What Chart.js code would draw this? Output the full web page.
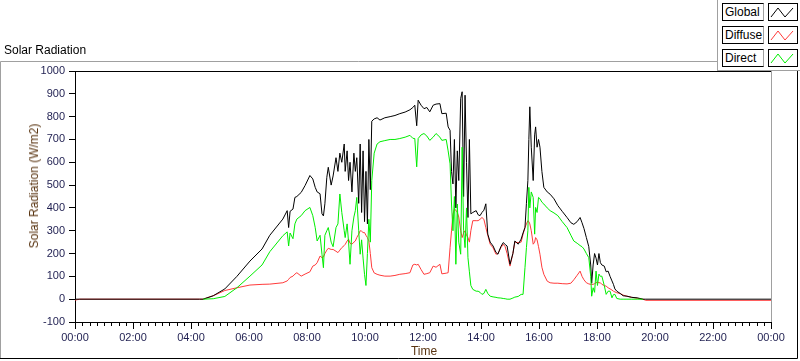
<!DOCTYPE html>
<html>
<head>
<meta charset="utf-8">
<script src="https://cdn.jsdelivr.net/npm/chart.js@4"></script>
<style>
  html, body { margin:0; padding:0; background:#fff; }
  #wrap { position:relative; width:800px; height:361px; overflow:hidden; font-family:"Liberation Sans", Arial, sans-serif; }
  #c { position:absolute; left:0; top:0; }
  .abs { position:absolute; white-space:nowrap; }
  #ptitle { left:4px; top:43px; font-size:12px; line-height:14px; color:#000; }
  #ytitle { left:34px; top:186px; font-size:12px; line-height:14px; color:#5a3512; transform:translate(-50%,-50%) rotate(-90deg); }
  #xtitle { left:424px; top:344px; font-size:12px; line-height:14px; color:#5a3512; transform:translateX(-50%); }
  #legend { left:717px; top:0px; width:83px; height:71px; background:#fff; border-left:1px solid #a0a0a0; border-bottom:1px solid #a0a0a0; box-sizing:border-box; }
  .ltext { position:absolute; left:4px; width:42px; height:18px; box-sizing:border-box; border:1px solid #000; border-right-color:#a0a0a0; font-size:12px; line-height:16px; padding-left:2px; color:#000; background:#fff; }
  .lsw { position:absolute; left:50px; width:30px; height:18px; box-sizing:border-box; border:1px solid #000; background:#fff; }
  .lsw svg { position:absolute; left:0; top:0; }
</style>
</head>
<body>
<div id="wrap">
  <canvas id="c" width="800" height="361"></canvas>
  <div id="ptitle" class="abs">Solar Radiation</div>
  <div id="ytitle" class="abs">Solar Radiation (W/m2)</div>
  <div id="xtitle" class="abs">Time</div>
  <div id="legend" class="abs"></div>
</div>
<script>
// ---- data (time in minutes since 00:00) ----
const seriesNames = ['Global', 'Diffuse', 'Direct'];
const times = [0,10,258,265,286,310,335,362,387,403,430,439,442,445,451,455,459,468,476,486,492,497,501,507,511,514,517,521,524,530,534,540,544,548,552,557,559,563,566,569,573,577,580,583,587,590,593,596,599,602,605,608,611,614,619,625,631,641,652,662,672,683,693,699,703,707,710,716,722,728,734,741,747,755,759,768,772,776,779,782,785,788,791,794,798,801,804,807,810,813,816,819,823,830,834,838,842,846,850,854,859,865,871,875,881,886,890,894,900,906,910,917,923,927,931,934,937,939,941,944,948,951,953,956,959,962,966,970,977,983,991,999,1008,1018,1026,1032,1039,1045,1049,1053,1058,1063,1067,1069,1072,1075,1078,1081,1084,1087,1090,1095,1099,1103,1107,1111,1114,1117,1121,1128,1134,1142,1152,1163,1175,1181,1440];

const globalRad = [0,0,0,0,15,45,100,167,220,280,351,388,314,385,395,446,450,468,498,542,527,490,470,462,374,365,418,534,578,500,540,620,560,640,600,680,560,650,520,600,470,640,560,620,420,680,380,650,340,560,330,700,480,780,790,795,785,795,800,805,813,820,830,840,850,760,872,850,835,840,821,850,855,857,813,815,755,740,560,505,700,400,650,520,880,909,450,894,600,358,700,374,380,388,370,366,380,390,418,285,250,233,205,197,230,248,240,233,153,200,255,241,263,290,314,420,520,700,843,666,520,720,755,666,700,666,560,490,470,460,440,410,385,358,335,328,340,358,335,310,270,230,150,70,150,200,180,150,200,160,150,145,120,123,100,80,65,45,35,25,15,13,8,6,0,0,0];

const diffuseRad = [-4,0,0,0,15,38,50,62,65,66,72,80,87,95,101,110,116,101,110,120,145,150,160,189,182,185,200,215,223,218,218,210,204,215,226,235,240,255,263,245,241,250,255,270,285,300,298,292,292,280,270,255,200,138,115,109,105,101,101,104,109,112,116,150,153,150,153,130,109,112,116,145,140,153,111,114,116,226,300,373,395,390,380,360,300,270,290,300,280,270,250,300,344,344,344,350,358,350,314,280,241,225,197,200,225,241,230,200,145,200,250,248,250,285,314,330,344,340,330,300,241,250,270,260,230,197,140,109,79,72,70,70,68,67,70,85,105,123,100,85,72,67,65,65,65,68,72,75,72,72,65,60,57,50,45,40,35,32,28,25,18,13,8,4,0,-5,-5];

const directRad = [null,null,null,0,2,12,50,101,150,208,278,295,233,290,265,330,351,366,388,402,366,314,255,280,197,138,280,300,314,250,230,314,330,461,380,300,270,330,250,153,300,360,388,446,300,197,260,180,109,60,200,350,250,520,640,680,690,695,700,700,704,710,718,705,704,580,704,720,726,715,696,710,726,710,696,700,650,593,417,300,450,153,417,250,197,666,300,226,400,182,120,60,43,35,35,30,21,25,43,25,13,10,8,6,5,3,2,0,0,5,9,12,21,21,138,226,300,490,400,470,446,285,402,380,446,440,425,417,400,388,378,366,340,314,280,255,245,235,230,220,200,182,100,13,50,30,123,60,110,100,101,60,21,35,35,6,20,21,3,0,0,0,0,0,0,null,null];

const yTickStep = 100;
const xLabelStep = 120;   // minutes between labelled ticks
const xMinorStep = 15;    // minutes between small ticks

// ---- legend (HTML) ----
const seriesColors = { Global:'#000000', Diffuse:'#ff3b3b', Direct:'#00ee00' };
const legend = document.getElementById('legend');
seriesNames.forEach((n, i) => {
  const top = 3 + i * 23;
  const t = document.createElement('div');
  t.className = 'ltext'; t.style.top = top + 'px'; t.textContent = n;
  legend.appendChild(t);
  const s = document.createElement('div');
  s.className = 'lsw'; s.style.top = top + 'px';
  s.innerHTML = '<svg width="28" height="16"><polyline points="2,13 9,4 16,13 24,4" fill="none" stroke="' + seriesColors[n] + '" stroke-width="1"/></svg>';
  legend.appendChild(s);
});

const pad2 = v => String(v).padStart(2, '0');
const mk = arr => times.map((t, i) => ({ x: t, y: arr[i] }));

const framePlugin = {
  id: 'frame',
  beforeDraw(chart) {
    const c = chart.ctx;
    c.save();
    c.fillStyle = '#fff';
    c.fillRect(0, 0, chart.width, chart.height);
    c.lineWidth = 1;
    // outer panel frame
    c.strokeStyle = '#a0a0a0';
    c.beginPath(); c.moveTo(0.5, 359); c.lineTo(0.5, 61.5); c.lineTo(717, 61.5); c.stroke();
    c.strokeStyle = '#000';
    c.beginPath(); c.moveTo(0, 358.5); c.lineTo(797.5, 358.5); c.lineTo(797.5, 70); c.stroke();
    c.restore();
  },
  afterDraw(chart) {
    const c = chart.ctx, a = chart.chartArea, xs = chart.scales.x;
    c.save();
    c.lineWidth = 1;
    // top border (black) and right border (grey) of the plot area
    c.strokeStyle = '#000';
    c.beginPath(); c.moveTo(a.left, Math.round(a.top) + 0.5); c.lineTo(a.right, Math.round(a.top) + 0.5); c.stroke();
    c.strokeStyle = '#a0a0a0';
    c.beginPath(); c.moveTo(Math.round(a.right) + 0.5, a.top); c.lineTo(Math.round(a.right) + 0.5, a.bottom); c.stroke();
    // minor ticks on the time axis
    c.strokeStyle = '#000';
    for (let m = 0; m <= xs.max; m += xMinorStep) {
      if (m % xLabelStep === 0) continue;
      const px = Math.round(xs.getPixelForValue(m)) + 0.5;
      c.beginPath(); c.moveTo(px, a.bottom); c.lineTo(px, a.bottom + 4); c.stroke();
    }
    c.restore();
  }
};

const tickFont = { family: 'Liberation Sans', size: 11 };
const tickColor = '#1e1e50';

new Chart(document.getElementById('c'), {
  type: 'line',
  data: {
    datasets: [
      { label: 'Direct',  data: mk(directRad),  borderColor: seriesColors.Direct,  borderWidth: 1, pointRadius: 0, tension: 0, order: 0, spanGaps: false },
      { label: 'Global',  data: mk(globalRad),  borderColor: seriesColors.Global,  borderWidth: 1, pointRadius: 0, tension: 0, order: 1 },
      { label: 'Diffuse', data: mk(diffuseRad), borderColor: seriesColors.Diffuse, borderWidth: 1, pointRadius: 0, tension: 0, order: 2 }
    ]
  },
  options: {
    responsive: false,
    animation: false,
    events: [],
    layout: { padding: { top: 71, right: 29, left: 0, bottom: 0 } },
    plugins: { legend: { display: false }, tooltip: { enabled: false }, title: { display: false } },
    scales: {
      x: {
        type: 'linear', min: 0, max: 1440,
        ticks: { stepSize: xLabelStep, autoSkip: false, maxRotation: 0, minRotation: 0, padding: 2, color: tickColor, font: tickFont,
                 callback: v => pad2(Math.floor(v / 60) % 24) + ':' + pad2(v % 60) },
        grid: { drawOnChartArea: false, tickLength: 7, color: '#000' },
        border: { color: '#000' },
        afterFit: s => { s.height = 39; }
      },
      y: {
        min: -100, max: 1000,
        ticks: { stepSize: yTickStep, padding: 4, color: tickColor, font: tickFont, callback: v => String(v) },
        grid: { drawOnChartArea: false, tickLength: 6, color: '#000' },
        border: { color: '#000' },
        afterFit: s => { s.width = 75; }
      }
    }
  },
  plugins: [framePlugin]
});
</script>
</body>
</html>
